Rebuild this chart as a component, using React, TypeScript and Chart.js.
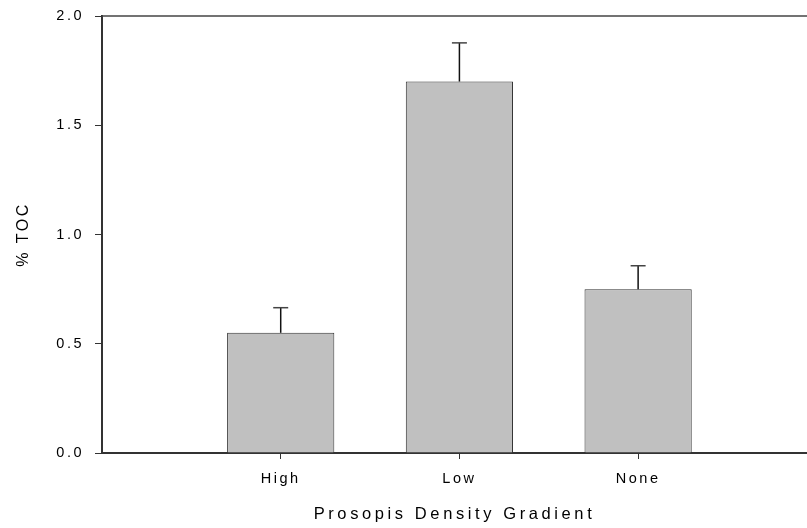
import React, { useEffect, useRef } from "react";
import { Chart, registerables } from "chart.js";

Chart.register(...registerables);

const categories = ["High", "Low", "None"];
const tocValues = [0.55, 1.7, 0.75];
const tocErrors = [0.115, 0.177, 0.107];
const yTicks = [0, 0.5, 1.0, 1.5, 2.0];

const FONT = "'Liberation Sans', Arial, Helvetica, sans-serif";
const BASE_SPACING = "2.5px";

const spacingPlugin = {
  id: "spacing",
  beforeLayout(chart: any) {
    chart.ctx.letterSpacing = BASE_SPACING;
  },
  beforeDraw(chart: any) {
    chart.ctx.letterSpacing = BASE_SPACING;
  },
};

const frameAndErrorPlugin = {
  id: "frameAndError",
  afterDatasetsDraw(chart: any) {
    const { ctx, chartArea, scales } = chart;
    const yScale = scales.y;
    const meta = chart.getDatasetMeta(0);
    ctx.save();
    meta.data.forEach((el: any, i: number) => {
      const yTop = yScale.getPixelForValue(tocValues[i] + tocErrors[i]);
      ctx.strokeStyle = "#111";
      ctx.lineWidth = 1.5;
      ctx.beginPath();
      ctx.moveTo(el.x, el.y);
      ctx.lineTo(el.x, yTop);
      ctx.stroke();
      ctx.strokeStyle = "#444";
      ctx.lineWidth = 1.5;
      ctx.beginPath();
      ctx.moveTo(el.x - 7.5, yTop);
      ctx.lineTo(el.x + 7.5, yTop);
      ctx.stroke();
    });
    ctx.strokeStyle = "#444";
    ctx.lineWidth = 1.5;
    ctx.beginPath();
    ctx.moveTo(chartArea.left, chartArea.top);
    ctx.lineTo(chartArea.right, chartArea.top);
    ctx.stroke();
    ctx.restore();
  },
};

function wrapTitleSpacing(s: any, spacing: string) {
  if (s.__wrapped) return;
  s.__wrapped = true;
  const orig = s.drawTitle;
  s.drawTitle = function (...args: any[]) {
    const ctx = this.ctx;
    const prev = ctx.letterSpacing;
    ctx.letterSpacing = spacing;
    orig.apply(this, args);
    ctx.letterSpacing = prev;
  };
}

export default function App() {
  const ref = useRef<HTMLCanvasElement>(null);
  useEffect(() => {
    if (!ref.current) return;
    const chart = new Chart(ref.current, {
      type: "bar",
      data: {
        datasets: [
          {
            data: categories.map((_, i) => ({ x: i + 1, y: tocValues[i] })),
            backgroundColor: "#c0c0c0",
            borderColor: "#333",
            borderWidth: 1,
            barPercentage: 0.6,
            categoryPercentage: 1,
          },
        ],
      },
      options: {
        animation: false,
        responsive: false,
        devicePixelRatio: 1,
        layout: { padding: { top: 16, left: 0, right: 0, bottom: 0 } },
        plugins: { legend: { display: false }, tooltip: { enabled: false } },
        scales: {
          x: {
            type: "linear",
            offset: false,
            min: 0,
            max: 3.945,
            afterBuildTicks: (s: any) => {
              s.ticks = categories.map((_, i) => ({ value: i + 1 }));
            },
            afterFit: (s: any) => {
              s.height = 75;
              s.paddingLeft = 0;
              s.paddingRight = 0;
            },
            afterUpdate: (s: any) => wrapTitleSpacing(s, "3.6px"),
            ticks: {
              callback: (v: any) => categories[Number(v) - 1] ?? "",
              color: "#000",
              font: { family: FONT, size: 14.5 },
              padding: 11,
              maxRotation: 0,
              autoSkip: false,
            },
            grid: {
              display: true,
              offset: false,
              drawOnChartArea: false,
              drawTicks: true,
              tickLength: 6,
              color: "#333",
              lineWidth: 1,
            },
            border: { display: true, color: "#333", width: 2 },
            title: {
              display: true,
              text: "Prosopis Density Gradient",
              color: "#000",
              font: { family: FONT, size: 16.5 },
              padding: { top: 0, bottom: 4 },
            },
          },
          y: {
            min: 0,
            max: 2,
            afterBuildTicks: (s: any) => {
              s.ticks = yTicks.map((v) => ({ value: v }));
            },
            afterFit: (s: any) => {
              s.width = 102;
              s.paddingTop = 0;
              s.paddingBottom = 0;
            },
            ticks: {
              callback: (v: any) => Number(v).toFixed(1),
              color: "#000",
              font: { family: FONT, size: 14.5 },
              padding: 11,
            },
            grid: {
              display: true,
              drawOnChartArea: false,
              drawTicks: true,
              tickLength: 7,
              color: "#333",
              lineWidth: 1,
            },
            border: { display: true, color: "#333", width: 2 },
            title: {
              display: true,
              text: "% TOC",
              color: "#000",
              font: { family: FONT, size: 16 },
              padding: { top: 14, bottom: 0 },
            },
          },
        },
      },
      plugins: [spacingPlugin, frameAndErrorPlugin],
    } as any);
    return () => chart.destroy();
  }, []);
  return (
    <div style={{ position: "fixed", left: 0, top: 0, width: 807, height: 528, background: "#fff" }}>
      <canvas ref={ref} width={807} height={528} style={{ display: "block" }} />
    </div>
  );
}
